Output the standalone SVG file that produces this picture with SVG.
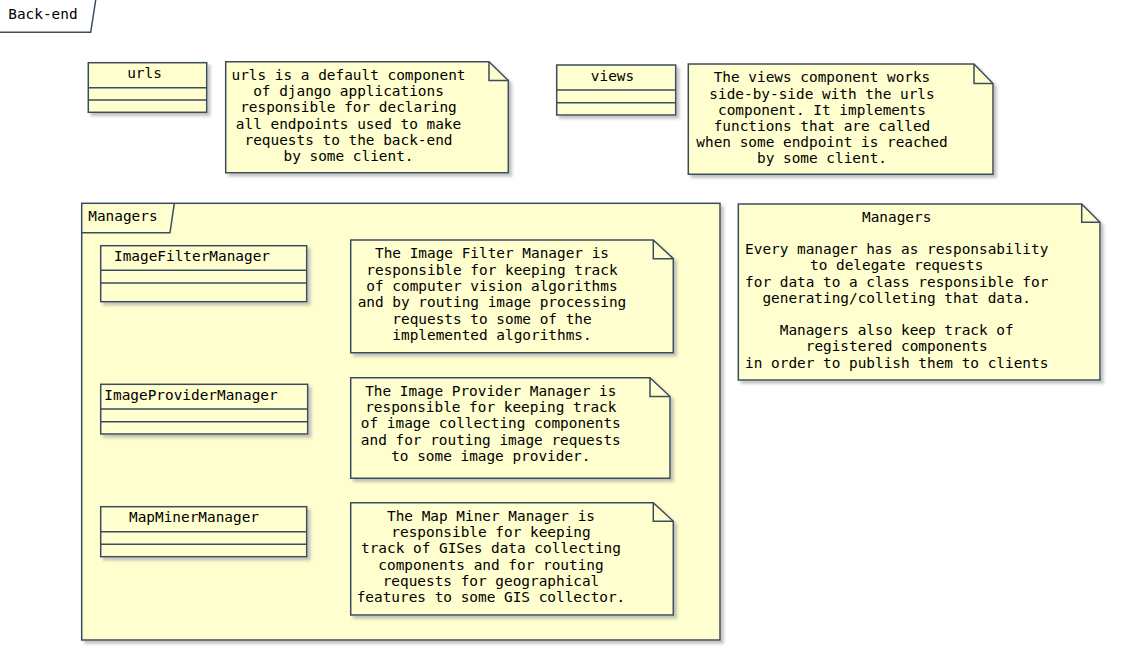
<svg xmlns="http://www.w3.org/2000/svg" width="1131" height="670" viewBox="0 0 1131 670">
<defs>
<filter id="sh" x="-5%" y="-5%" width="115%" height="120%">
<feGaussianBlur in="SourceAlpha" stdDeviation="1.6"/>
<feOffset dx="3" dy="3" result="b"/>
<feColorMatrix in="b" type="matrix" values="0 0 0 0 0.45 0 0 0 0 0.45 0 0 0 0 0.45 0 0 0 0.8 0" result="c"/>
<feMerge><feMergeNode in="c"/><feMergeNode in="SourceGraphic"/></feMerge>
</filter>
</defs>
<style>
.box{fill:#FEFECE;stroke:#3A4D5C;stroke-width:1.5;filter:url(#sh)}
.ln{fill:none;stroke:#3A4D5C;stroke-width:1.5}
.pk{fill:#FEFECE;stroke:#3A4D5C;stroke-width:1.5;filter:url(#sh)}
text{font-family:"DejaVu Sans Mono","Liberation Mono",monospace;font-size:14.4px;fill:#000}
.c{text-anchor:middle}
</style>
<rect width="1131" height="670" fill="#FFFFFF"/>

<g id="pkg-backend">
<path class="ln" d="M0,32.3 L90.7,32.3 L95.7,0"/>
<text x="8.3" y="19.3">Back-end</text>
</g>

<g id="pkg-managers">
<rect class="pk" x="81.7" y="203.3" width="638.3" height="436.7"/>
<path class="ln" d="M81.7,232.7 L170,232.7 L174.3,203.3"/>
<text x="88.3" y="221">Managers</text>
</g>

<g id="urls">
<rect class="box" x="88.3" y="62.7" width="118.4" height="49.6"/>
<path class="ln" d="M88.3,87.7 H206.7 M88.3,100 H206.7"/>
<text class="c" x="144.5" y="78">urls</text>
</g>

<g id="note-urls">
<path class="box" d="M225.7,61.7 L489,61.7 L508.3,80.5 L508.3,172.7 L225.7,172.7 Z"/>
<path class="ln" d="M489,61.7 L489,80.5 L508.3,80.5"/>
<text class="c" x="348.5" y="80">urls is a default component</text>
<text class="c" x="348.5" y="96.2">of django applications</text>
<text class="c" x="348.5" y="112.4">responsible for declaring</text>
<text class="c" x="348.5" y="128.6">all endpoints used to make</text>
<text class="c" x="348.5" y="144.8">requests to the back-end</text>
<text class="c" x="348.5" y="161">by some client.</text>
</g>

<g id="views">
<rect class="box" x="556.7" y="65" width="119" height="50"/>
<path class="ln" d="M556.7,90 H675.7 M556.7,102.7 H675.7"/>
<text class="c" x="612.5" y="80.5">views</text>
</g>

<g id="note-views">
<path class="box" d="M688.3,64 L974,64 L993,83.5 L993,174.3 L688.3,174.3 Z"/>
<path class="ln" d="M974,64 L974,83.5 L993,83.5"/>
<text class="c" x="822" y="82.3">The views component works</text>
<text class="c" x="822" y="98.5">side-by-side with the urls</text>
<text class="c" x="822" y="114.7">component. It implements</text>
<text class="c" x="822" y="130.9">functions that are called</text>
<text class="c" x="822" y="147.1">when some endpoint is reached</text>
<text class="c" x="822" y="163.3">by some client.</text>
</g>

<g id="note-managers">
<path class="box" d="M738.3,204 L1081.7,204 L1100,222.3 L1100,380 L738.3,380 Z"/>
<path class="ln" d="M1081.7,204 L1081.7,222.3 L1100,222.3"/>
<text class="c" x="896.7" y="221.7">Managers</text>
<text class="c" x="896.7" y="254.1">Every manager has as responsability</text>
<text class="c" x="896.7" y="270.3">to delegate requests</text>
<text class="c" x="896.7" y="286.5">for data to a class responsible for</text>
<text class="c" x="896.7" y="302.7">generating/colleting that data.</text>
<text class="c" x="896.7" y="335.1">Managers also keep track of</text>
<text class="c" x="896.7" y="351.3">registered components</text>
<text class="c" x="896.7" y="367.5">in order to publish them to clients</text>
</g>

<g id="ImageFilterManager">
<rect class="box" x="100.7" y="245.7" width="206" height="56"/>
<path class="ln" d="M100.7,270.3 H306.7 M100.7,283 H306.7"/>
<text class="c" x="192" y="260.5">ImageFilterManager</text>
</g>

<g id="note-ImageFilterManager">
<path class="box" d="M350.7,240 L653.3,240 L673.3,258.7 L673.3,352.7 L350.7,352.7 Z"/>
<path class="ln" d="M653.3,240 L653.3,258.7 L673.3,258.7"/>
<text class="c" x="492" y="258.3">The Image Filter Manager is</text>
<text class="c" x="492" y="274.6">responsible for keeping track</text>
<text class="c" x="492" y="290.9">of computer vision algorithms</text>
<text class="c" x="492" y="307.2">and by routing image processing</text>
<text class="c" x="492" y="323.5">requests to some of the</text>
<text class="c" x="492" y="339.8">implemented algorithms.</text>
</g>

<g id="ImageProviderManager">
<rect class="box" x="100.7" y="384.3" width="207" height="49.7"/>
<path class="ln" d="M100.7,409 H307.7 M100.7,421.7 H307.7"/>
<text class="c" x="191" y="400">ImageProviderManager</text>
</g>

<g id="note-ImageProviderManager">
<path class="box" d="M350.7,377.7 L650,377.7 L670,396.5 L670,478.3 L350.7,478.3 Z"/>
<path class="ln" d="M650,377.7 L650,396.5 L670,396.5"/>
<text class="c" x="490.8" y="395.7">The Image Provider Manager is</text>
<text class="c" x="490.8" y="412">responsible for keeping track</text>
<text class="c" x="490.8" y="428.3">of image collecting components</text>
<text class="c" x="490.8" y="444.6">and for routing image requests</text>
<text class="c" x="490.8" y="460.9">to some image provider.</text>
</g>

<g id="MapMinerManager">
<rect class="box" x="100.7" y="506.7" width="206" height="50"/>
<path class="ln" d="M100.7,531.7 H306.7 M100.7,544.3 H306.7"/>
<text class="c" x="194" y="522.3">MapMinerManager</text>
</g>

<g id="note-MapMinerManager">
<path class="box" d="M350.7,502.7 L653.3,502.7 L673.3,521.3 L673.3,615 L350.7,615 Z"/>
<path class="ln" d="M653.3,502.7 L653.3,521.3 L673.3,521.3"/>
<text class="c" x="491" y="520.7">The Map Miner Manager is</text>
<text class="c" x="491" y="537">responsible for keeping</text>
<text class="c" x="491" y="553.3">track of GISes data collecting</text>
<text class="c" x="491" y="569.6">components and for routing</text>
<text class="c" x="491" y="585.9">requests for geographical</text>
<text class="c" x="491" y="602.2">features to some GIS collector.</text>
</g>

<g id="connectors"></g>
</svg>
